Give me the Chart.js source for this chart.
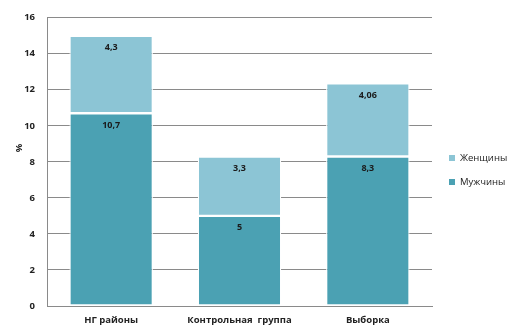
<!DOCTYPE html>
<html>
<head>
<meta charset="utf-8">
<script src="https://cdn.jsdelivr.net/npm/chart.js@4/dist/chart.umd.min.js"></script>
<style>
  html, body { margin: 0; padding: 0; background: #fff; }
  #wrap { width: 514px; height: 329px; position: relative; }
</style>
</head>
<body>
<div id="wrap"><canvas id="c" width="514" height="329"></canvas></div>
<script>
// Share of respondents by group, %
const categories = ['НГ районы', 'Контрольная  группа', 'Выборка'];
const men = [10.7, 5, 8.3];
const women = [4.3, 3.3, 4.06];
const seriesNames = ['Мужчины', 'Женщины'];
const yTicks = [0, 2, 4, 6, 8, 10, 12, 14, 16];
const yTitle = '%';

const menColor = '#4ba1b3';
const womenColor = '#8cc5d5';
const family = '"Open Sans", "Liberation Sans", sans-serif';
const tickFont = { family: 'Open Sans, Liberation Sans, sans-serif', size: 9.5, weight: 'bold' };

const fmt = v => String(v).replace('.', ',');

// Value labels inside the top of each segment
const segmentLabels = {
  id: 'segmentLabels',
  afterDatasetsDraw(chart) {
    const ctx = chart.ctx;
    ctx.save();
    ctx.font = 'bold 9px ' + family;
    ctx.fillStyle = '#1a1a1a';
    ctx.textAlign = 'center';
    ctx.textBaseline = 'middle';
    chart.data.datasets.forEach((ds, di) => {
      const meta = chart.getDatasetMeta(di);
      meta.data.forEach((bar, i) => {
        ctx.fillText(fmt(ds.data[i]), bar.x, bar.y + 12);
      });
    });
    ctx.restore();
  }
};

// Legend on the right (upper series first) and the rotated y title
const sideLegend = {
  id: 'sideLegend',
  afterDraw(chart) {
    const ctx = chart.ctx;
    ctx.save();
    ctx.font = '9.5px ' + family;
    ctx.textBaseline = 'middle';
    ctx.textAlign = 'left';
    const items = chart.data.datasets.slice().reverse();
    items.forEach((ds, k) => {
      const y = 158 + k * 24;
      ctx.fillStyle = ds.backgroundColor;
      ctx.fillRect(449, y - 3, 6, 6);
      ctx.fillStyle = '#222';
      ctx.fillText(ds.label, 460, y);
    });
    ctx.translate(19, 148);
    ctx.rotate(-Math.PI / 2);
    ctx.textAlign = 'center';
    ctx.font = 'bold 9.5px ' + family;
    ctx.fillText(yTitle, 0, 0);
    ctx.restore();
  }
};

new Chart(document.getElementById('c'), {
  type: 'bar',
  data: {
    labels: categories,
    datasets: [
      { label: seriesNames[0], data: men, backgroundColor: menColor, borderColor: '#ffffff', borderWidth: 1.2, borderSkipped: false, categoryPercentage: 1, barPercentage: 0.65 },
      { label: seriesNames[1], data: women, backgroundColor: womenColor, borderColor: '#ffffff', borderWidth: 1.2, borderSkipped: false, categoryPercentage: 1, barPercentage: 0.65 }
    ]
  },
  options: {
    responsive: false,
    animation: false,
    devicePixelRatio: 1,
    layout: { padding: { left: 0, top: 17, right: 82, bottom: 0 } },
    plugins: {
      legend: { display: false },
      tooltip: { enabled: false }
    },
    scales: {
      x: {
        stacked: true,
        grid: { display: false, drawTicks: false },
        border: { display: true, color: '#8a8a8a', width: 1 },
        ticks: { font: tickFont, color: '#222', padding: 9, maxRotation: 0 },
        afterFit(s) { s.height = 23; }
      },
      y: {
        stacked: true,
        min: 0,
        max: 16,
        afterBuildTicks(s) { s.ticks = yTicks.map(v => ({ value: v })); },
        grid: { color: '#8a8a8a', lineWidth: 1, drawTicks: false },
        border: { display: true, color: '#8a8a8a', width: 1 },
        ticks: { font: tickFont, color: '#222', padding: 12 },
        afterFit(s) { s.width = 47; }
      }
    }
  },
  plugins: [segmentLabels, sideLegend]
});
</script>
</body>
</html>
